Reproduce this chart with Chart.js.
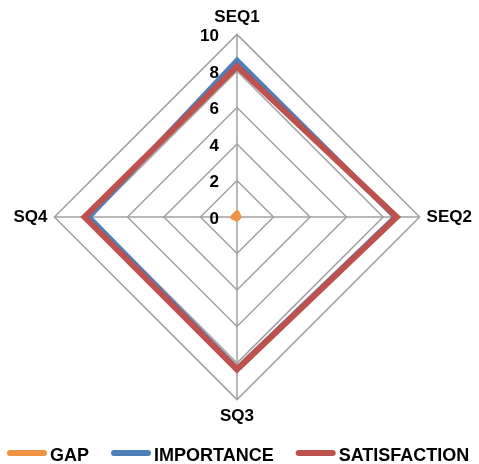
<!DOCTYPE html>
<html>
<head>
<meta charset="utf-8">
<script src="https://cdn.jsdelivr.net/npm/chart.js@4/dist/chart.umd.min.js"></script>
<style>
  html, body { margin: 0; padding: 0; background: #ffffff; }
  #wrap { width: 479px; height: 464px; }
</style>
</head>
<body>
<div id="wrap"><canvas id="c" width="479" height="464"></canvas></div>
<script>
// Survey dimensions and scores
const categories = ['SEQ1', 'SEQ2', 'SQ3', 'SQ4'];
const gapValues = [0.2, 0.08, 0.08, 0.2];
const importanceValues = [8.6, 8.65, 8.3, 8.1];
const satisfactionValues = [8.25, 8.75, 8.35, 8.35];
const tickValues = [0, 2, 4, 6, 8, 10];

const FONT = '"Liberation Sans", Arial, sans-serif';

// Radial tick numbers drawn to the left of the vertical axis
const tickLabelPlugin = {
  id: 'tickLabels',
  afterDatasetsDraw(chart) {
    const s = chart.scales.r;
    const ctx = chart.ctx;
    ctx.save();
    ctx.font = 'bold 17px ' + FONT;
    ctx.fillStyle = '#000000';
    ctx.textAlign = 'right';
    ctx.textBaseline = 'middle';
    tickValues.forEach(v => {
      const d = s.getDistanceFromCenterForValue(v);
      ctx.fillText(String(v), s.xCenter - 18, s.yCenter - d + 2);
    });
    ctx.restore();
  }
};

// Legend row along the bottom: short rounded line swatch followed by the series name
const lineLegendPlugin = {
  id: 'lineLegend',
  afterDraw(chart) {
    const ctx = chart.ctx;
    ctx.save();
    ctx.font = 'bold 18px ' + FONT;
    ctx.textAlign = 'left';
    ctx.textBaseline = 'middle';
    const y = 455;
    let x = 7;
    chart.data.datasets.forEach(ds => {
      ctx.strokeStyle = ds.borderColor;
      ctx.lineWidth = 6;
      ctx.lineCap = 'round';
      ctx.beginPath();
      ctx.moveTo(x + 3, y - 2);
      ctx.lineTo(x + 37, y - 2);
      ctx.stroke();
      x += 43;
      ctx.fillStyle = '#000000';
      ctx.fillText(ds.label, x, y + 1);
      x += ctx.measureText(ds.label).width + 22;
    });
    ctx.restore();
  }
};

new Chart(document.getElementById('c'), {
  type: 'radar',
  data: {
    labels: categories,
    datasets: [
      {
        label: 'GAP',
        data: gapValues,
        borderColor: '#EE9443',
        backgroundColor: '#EE9443',
        borderWidth: 6,
        borderJoinStyle: 'round',
        fill: false,
        pointRadius: 0,
        order: 2
      },
      {
        label: 'IMPORTANCE',
        data: importanceValues,
        borderColor: '#4F7FBA',
        backgroundColor: '#4F7FBA',
        borderWidth: 5,
        borderJoinStyle: 'miter',
        fill: false,
        pointRadius: 0,
        order: 1
      },
      {
        label: 'SATISFACTION',
        data: satisfactionValues,
        borderColor: '#BC514E',
        backgroundColor: '#BC514E',
        borderWidth: 6,
        borderJoinStyle: 'miter',
        fill: false,
        pointRadius: 0,
        order: 0
      }
    ]
  },
  options: {
    responsive: false,
    animation: false,
    layout: { padding: { top: 7, bottom: 37, left: 8, right: 0 } },
    scales: {
      r: {
        min: 0,
        max: 10,
        ticks: { stepSize: 2, display: false },
        grid: { color: '#A0A0A0', lineWidth: 1.5 },
        angleLines: { color: '#A0A0A0', lineWidth: 1.5 },
        pointLabels: {
          color: '#000000',
          padding: 7,
          font: { family: FONT, size: 17, weight: 'bold' }
        }
      }
    },
    plugins: {
      tooltip: { enabled: false },
      legend: { display: false }
    }
  },
  plugins: [tickLabelPlugin, lineLegendPlugin]
});
</script>
</body>
</html>
